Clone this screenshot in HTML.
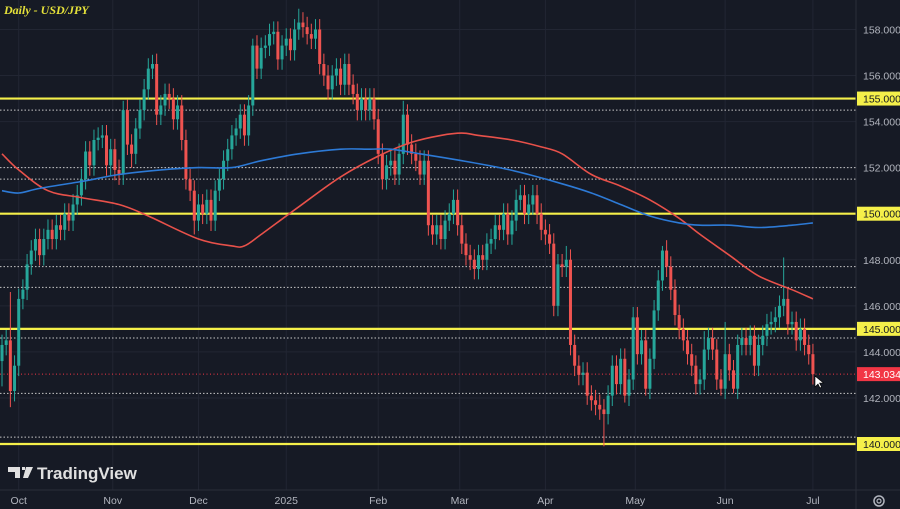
<!DOCTYPE html>
<html><head><meta charset="utf-8"><style>
html,body{margin:0;padding:0;background:#161a25;width:900px;height:509px;overflow:hidden}
svg{display:block}
</style></head><body>
<svg id="c" width="900" height="509" xmlns="http://www.w3.org/2000/svg" font-family="'Liberation Sans', sans-serif">
<rect x="0" y="0" width="900" height="509" fill="#161a25"/>
<g id="grid"></g>
<g id="levels"></g>
<g id="candles"></g>
<g id="mas"></g>
<line x1="856" y1="0" x2="856" y2="509" stroke="#2a2e39"/>
<line x1="0" y1="490" x2="900" y2="490" stroke="#2a2e39"/>
<g id="yaxis"></g>
<g id="xaxis"></g>
<text x="4" y="14" fill="#e6e23a" font-size="12" font-style="italic" font-weight="bold" font-family="'Liberation Serif', serif">Daily - USD/JPY</text>
<g>
<path d="M8 467 h12 v11 h-5 v-6 h-7 z M22 467 h3 v3 h-3 z M26 467 h7 l-5 11 h-5 z" fill="#e0e0e0"/>
<text x="37" y="479" fill="#e0e0e0" font-size="17" font-weight="bold">TradingView</text>
</g>
<g transform="translate(879,501)"><circle r="5" fill="none" stroke="#b2b5be" stroke-width="1.5"/><circle r="2" fill="none" stroke="#b2b5be" stroke-width="1.2"/></g>
<path d="M815 376 l0 11 l3 -3 l2 4 l1.5 -1 l-2 -4 l4 0 z" fill="#fff" stroke="#000" stroke-width="0.6"/>
</svg>
<script>
const closes=[144.3,144.5,142.3,143.4,146.3,146.7,147.8,148.4,148.9,148.2,148.9,149.3,148.9,149.5,149.3,150.0,149.7,150.4,150.8,151.5,
152.7,152.1,153.2,153.3,153.4,152.1,152.8,151.9,151.7,154.5,153.0,152.6,153.7,154.5,155.4,156.3,156.5,154.3,154.7,155.2,
155.0,154.1,154.7,153.2,151.5,151.0,149.7,150.4,150.0,150.6,149.7,151.0,151.5,152.3,152.8,153.4,153.7,154.3,153.4,154.7,
157.3,156.3,157.2,157.3,157.8,157.9,156.7,157.3,157.6,157.1,158.0,158.3,158.1,157.8,157.6,158.0,156.5,156.0,155.4,156.0,
156.3,155.6,156.5,155.6,155.2,154.5,155.0,154.5,155.0,154.1,152.6,151.5,152.1,152.3,151.7,152.6,154.3,153.0,152.6,152.3,
151.7,152.3,149.5,149.1,149.5,148.9,149.7,150.0,150.6,149.5,148.7,148.2,148.0,147.6,148.2,148.0,148.7,148.9,149.5,149.3,
150.0,149.1,149.7,150.6,150.8,150.0,150.4,150.8,150.0,149.3,149.1,148.7,146.0,147.8,147.7,148.0,144.3,143.4,143.0,143.1,
142.1,141.9,141.7,141.5,141.3,142.1,143.4,142.6,143.7,142.1,142.8,145.5,143.9,144.5,142.4,143.7,145.8,147.1,148.4,147.7,
146.7,145.6,145.0,144.5,143.9,143.4,142.6,142.8,144.1,144.6,144.1,142.8,142.4,143.9,143.2,142.4,144.3,144.6,144.3,144.7,
143.4,144.3,144.7,145.2,145.3,145.5,146.0,146.3,145.2,145.3,144.5,145.0,144.3,143.9,143.034];
const firstOpen=143.6;
const wickDefault=0.45;
const highIdx=[2,36,71,96,158,187,60,29,135,168,173];
const highVal=[146.6,156.9,158.9,154.9,148.6,148.1,157.6,154.9,148.6,144.9,145.3];
const lowIdx=[0,2,144,172,154,175,149,140,31,46];
const lowVal=[142.5,141.6,139.9,142.1,142.1,142.2,141.8,141.7,152.0,149.1];
const redIdx=[0,4,11,19,28,35,47,55,58,62,71,81,90,98,105,110,114,122,129,134,141,148,155,162,167,174,181,189,194];
const redVal=[152.6,151.9,151.0,150.7,150.4,149.9,148.9,148.6,148.6,149.1,150.3,151.6,152.5,153.1,153.4,153.5,153.4,153.2,152.9,152.6,151.7,151.2,150.6,149.8,149.1,148.2,147.3,146.7,146.3];
const blueIdx=[0,4,9,19,28,38,47,55,62,71,81,88,93,100,110,119,126,134,141,148,155,162,167,174,181,189,194];
const blueVal=[151.0,150.9,151.1,151.4,151.7,151.9,152.0,152.0,152.3,152.6,152.8,152.8,152.8,152.6,152.3,152.0,151.7,151.3,150.9,150.4,149.9,149.6,149.5,149.5,149.4,149.5,149.6];
const yTicks=[158,156,154,152,148,146,144,142];
const keyLevels=[155,150,145,140];
const dottedLevels=[154.5,152,151.5,147.7,146.8,144.6,142.2,140.3];
const monthLabels=["Oct","Nov","Dec","2025","Feb","Mar","Apr","May","Jun","Jul"];
const monthIdx=[4,26.5,47,68,90,109.5,130,151.5,173,194];

const NS="http://www.w3.org/2000/svg";
const y=p=>444-(p-140)*23.03;
const x=i=>2+i*4.18;
function mk(tag,attrs,parent){const e=document.createElementNS(NS,tag);for(const k in attrs)e.setAttribute(k,attrs[k]);parent.appendChild(e);return e;}
const grid=document.getElementById('grid'),lev=document.getElementById('levels'),cg=document.getElementById('candles'),mg=document.getElementById('mas'),ya=document.getElementById('yaxis'),xa=document.getElementById('xaxis');
for(let k=0;k<monthIdx.length;k++){const l=mk('line',{x1:x(monthIdx[k]),x2:x(monthIdx[k]),y1:0,y2:490,stroke:'#222633'},grid);

}
for(const p of [158,156,154,152,150,148,146,144,142,140]){const l=mk('line',{x1:0,x2:856,y1:y(p),y2:y(p),stroke:'#222633'},grid);

}
for(const p of dottedLevels){const l=mk('line',{x1:0,x2:856,y1:y(p),y2:y(p),stroke:'#c8c8c8','stroke-width':1,'stroke-dasharray':'1.5 2'},lev);

}
const last=closes[closes.length-1];
const rl=mk('line',{x1:0,x2:856,y1:y(last),y2:y(last),stroke:'#f23645','stroke-width':1,'stroke-dasharray':'1 2.5'},lev);


for(const p of keyLevels){const l=mk('line',{x1:0,x2:856,y1:y(p),y2:y(p),stroke:'#f5f04a','stroke-width':2.2},lev);

}
for(let i=0;i<closes.length;i++){
 const o=i===0?firstOpen:closes[i-1],c=closes[i];
 let hi=Math.max(o,c)+wickDefault,lo=Math.min(o,c)-wickDefault;
 const hI=highIdx.indexOf(i);if(hI>=0)hi=highVal[hI];
 const lI=lowIdx.indexOf(i);if(lI>=0)lo=lowVal[lI];
 const col=c>=o?'#26a69a':'#ef5350';
 const g=mk('g',{},cg);
 
 
 mk('line',{x1:x(i),x2:x(i),y1:y(hi),y2:y(lo),stroke:col,'stroke-width':1},g);
 const top=y(Math.max(o,c)),h=Math.max(1,Math.abs(y(o)-y(c)));
 mk('rect',{x:x(i)-1.5,y:top,width:3,height:h,fill:col},g);
}
function path(idx,val){
 const P=idx.map((v,k)=>[x(v),y(val[k])]);
 let d='M'+P[0][0].toFixed(1)+' '+P[0][1].toFixed(1);
 for(let k=0;k<P.length-1;k++){
  const p0=P[Math.max(0,k-1)],p1=P[k],p2=P[k+1],p3=P[Math.min(P.length-1,k+2)];
  const c1=[p1[0]+(p2[0]-p0[0])/6,p1[1]+(p2[1]-p0[1])/6],c2=[p2[0]-(p3[0]-p1[0])/6,p2[1]-(p3[1]-p1[1])/6];
  d+=' C'+c1.map(v=>v.toFixed(1)).join(' ')+' '+c2.map(v=>v.toFixed(1)).join(' ')+' '+p2[0].toFixed(1)+' '+p2[1].toFixed(1);
 }
 return d;
}
const pr=mk('path',{d:path(redIdx,redVal),fill:'none',stroke:'#e8514a','stroke-width':1.6},mg);


const pb=mk('path',{d:path(blueIdx,blueVal),fill:'none',stroke:'#2d7ad6','stroke-width':1.6},mg);


for(const p of yTicks){const t=mk('text',{x:863,y:y(p)+4,fill:'#b2b5be','font-size':10.5},ya);t.textContent=p.toFixed(3);

}
for(const p of keyLevels){const g=mk('g',{},ya);


mk('rect',{x:857,y:y(p)-7,width:43,height:14,fill:'#f5f04a'},g);
const t=mk('text',{x:863,y:y(p)+4,fill:'#131722','font-size':10.5},g);t.textContent=p.toFixed(3);}
const lg=mk('g',{},ya);


mk('rect',{x:857,y:y(last)-7,width:43,height:14,fill:'#f23645'},lg);
const lt=mk('text',{x:863,y:y(last)+4,fill:'#ffffff','font-size':10.5},lg);lt.textContent=last.toFixed(3);
for(let k=0;k<monthLabels.length;k++){const t=mk('text',{x:x(monthIdx[k]),y:504,fill:'#b2b5be','font-size':10.5,'text-anchor':'middle'},xa);t.textContent=monthLabels[k];

}
</script>
</body></html>
